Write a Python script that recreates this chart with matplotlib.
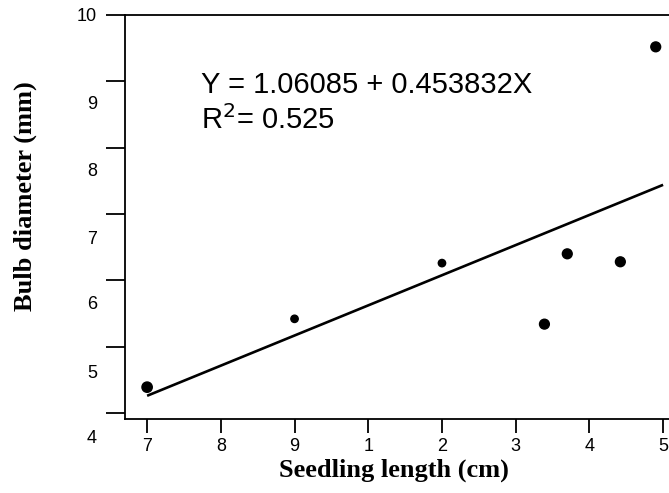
import matplotlib
matplotlib.use("Agg")
import matplotlib.pyplot as plt
import matplotlib.transforms as mtrans

# ---- data ----
pt_x = [7.0, 9.0, 11.0, 12.39, 12.70, 13.42, 13.90]
pt_y = [4.39, 5.42, 6.26, 5.34, 6.40, 6.28, 9.52]
pt_size = [55, 28, 28, 50, 50, 50, 50]

line_x = [7.0, 14.0]
line_y = [4.26, 7.44]

xtick_vals = [7, 8, 9, 10, 11, 12, 13, 14]
xtick_labels = ["7", "8", "9", "1", "2", "3", "4", "5"]
ytick_vals = [10, 9, 8, 7, 6, 5, 4]
ytick_labels = ["10", "9", "8", "7", "6", "5", "4"]
ytick_label_pos = [9.97, 8.645, 7.635, 6.61, 5.63, 4.60, 3.62]

equation = "Y = 1.06085 + 0.453832X"
r2_text = r"R$^2$= 0.525"
xlabel = "Seedling length (cm)"
ylabel = "Bulb diameter (mm)"

fig = plt.figure(figsize=(6.69, 4.93), dpi=100)
ax = fig.add_axes([125/669, 74/493, 544/669, 404/493])
ax.set_xlim(6.70, 14.08)
ax.set_ylim(3.91, 10.0)

ax.plot(line_x, line_y, color="black", lw=1.9, solid_capstyle="butt")
ax.scatter(pt_x, pt_y, s=pt_size, color="black", zorder=3, clip_on=False)

ax.spines["right"].set_visible(False)
for s in ["left", "bottom", "top"]:
    ax.spines[s].set_linewidth(1.3)

ax.set_xticks(xtick_vals)
ax.set_xticklabels(xtick_labels, fontfamily="Liberation Sans", fontsize=13)
ax.tick_params(axis="x", direction="out", length=10, width=1.3, pad=4)

ax.set_yticks(ytick_vals)
ax.set_yticklabels([])
ax.tick_params(axis="y", direction="out", length=14, width=1.3)
trans = mtrans.blended_transform_factory(ax.transAxes, ax.transData)
for lab, yp in zip(ytick_labels, ytick_label_pos):
    ax.text(-28/544, yp, lab, transform=trans, ha="right", va="center",
            fontfamily="Liberation Sans", fontsize=13, clip_on=False)

ax.text((201-125)/544, 1-(85-15)/404, equation, transform=ax.transAxes,
        ha="left", va="center", fontfamily="Liberation Sans", fontsize=21)
ax.text((201-125)/544, 1-(120-15)/404, r2_text, transform=ax.transAxes,
        ha="left", va="center", fontfamily="Liberation Sans", fontsize=21)

fig.text(394/669, 1-470/493, xlabel, ha="center", va="center",
         fontfamily="Liberation Serif", fontweight="bold", fontsize=19)
fig.text(25/669, 1-196/493, ylabel, ha="center", va="center", rotation=90,
         fontfamily="Liberation Serif", fontweight="bold", fontsize=19)

fig.savefig("out.png", dpi=100)
